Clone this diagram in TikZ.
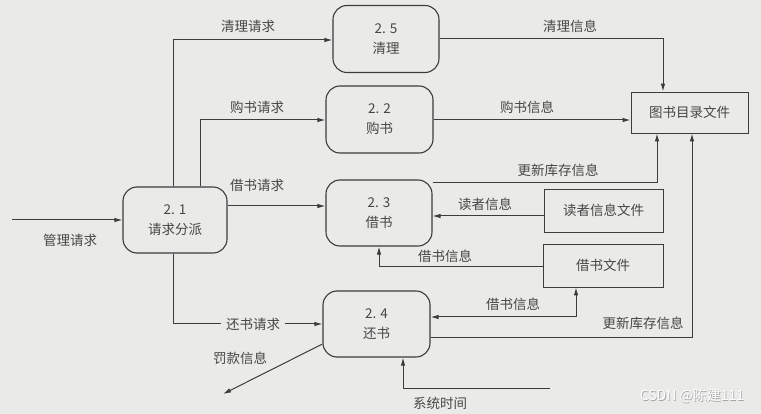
\documentclass[tikz,border=0pt]{standalone}
\usepackage{fontspec}
\setmainfont{Noto Sans CJK SC}
\usetikzlibrary{arrows.meta}
\definecolor{bgc}{RGB}{234,234,232}
\definecolor{linec}{RGB}{60,60,60}
\definecolor{textc}{RGB}{70,70,70}
\begin{document}
\begin{tikzpicture}[x=1pt,y=-1pt,
  proc/.style={draw=linec, line width=1.1pt, rounded corners=14pt, align=center, inner sep=0pt, text=textc, font=\fontsize{13.5}{20}\selectfont},
  store/.style={draw=linec, line width=0.9pt, inner sep=0pt, text=textc, font=\fontsize{13.5}{20}\selectfont},
  flow/.style={draw=linec, line width=1pt, -{Latex[length=8pt,width=4.5pt]}},
  lab/.style={text=textc, inner sep=1pt, font=\fontsize{13.5}{16}\selectfont},
  wmark/.style={inner sep=0pt, font=\fontsize{14}{16}\selectfont}]
\fill[bgc] (0,0) rectangle (761,414);
\useasboundingbox (0,0) rectangle (761,414);

% processes
\node[proc, minimum width=104pt, minimum height=66pt] (p21) at (175,220) {2. 1\\请求分派};
\node[proc, minimum width=106pt, minimum height=67pt] (p25) at (386,39) {2. 5\\清理};
\node[proc, minimum width=107pt, minimum height=67pt] (p22) at (379.5,119.5) {2. 2\\购书};
\node[proc, minimum width=106pt, minimum height=66pt] (p23) at (379,213) {2. 3\\借书};
\node[proc, minimum width=107pt, minimum height=66pt] (p24) at (376.5,324) {2. 4\\还书};

% stores
\node[store, minimum width=117pt, minimum height=41pt] (cat) at (689.5,112.5) {图书目录文件};
\node[store, minimum width=119pt, minimum height=43pt] (rdf) at (603.5,210.5) {读者信息文件};
\node[store, minimum width=120pt, minimum height=43pt] (bf) at (603,265.5) {借书文件};

% coordinates
\coordinate (c0) at (12,220);
\coordinate (c1) at (173,40);
\coordinate (c2) at (200,120);
\coordinate (c3) at (0,206);
\coordinate (c4) at (173,324);
\coordinate (c5) at (223,394);
\coordinate (c6) at (550,388);
\coordinate (c6a) at (403,388);
\coordinate (c7) at (663,39);
\coordinate (c8) at (0,120);
\coordinate (c9) at (657,183);
\coordinate (c10) at (0,216);
\coordinate (c11) at (379,267);
\coordinate (c12) at (576,317);
\coordinate (c13) at (692,338);

% flows
\draw[flow] (c0) -- (p21.west);
\draw[flow] (p21.north -| c1) |- (c1 -| p25.west);
\draw[flow] (p21.north -| c2) |- (c2 -| p22.west);
\draw[flow] (c3 -| p21.east) -- (c3 -| p23.west);
\draw[flow] (p21.south -| c4) |- (c4 -| p24.west);
\draw[flow] ([yshift=-20pt]p24.west) -- (c5);
\draw[flow] (c6) -- (c6a) -- (c6a |- p24.south);
\draw[flow] (c7 -| p25.east) -| (c7 |- cat.north);
\draw[flow] (c8 -| p22.east) -- (c8 -| cat.west);
\draw[flow] (c9 -| p23.east) -| (c9 |- cat.south);
\draw[flow] (c10 -| rdf.west) -- (c10 -| p23.east);
\draw[flow] (c11 -| bf.west) -| (c11 |- p23.south);
\draw[flow, {Latex[length=8pt,width=4.5pt]}-{Latex[length=8pt,width=4.5pt]}] (c12 |- bf.south) |- (c12 -| p24.east);
\draw[flow] (c13 -| p24.east) -| (c13 |- cat.south);

% labels
\node[lab] (l1) at (70,240) {管理请求};
\node[lab] (l2) at (248,26) {清理请求};
\node[lab] (l3) at (257,107) {购书请求};
\node[lab] (l4) at (257,185) {借书请求};
\node[lab, fill=bgc, inner xsep=5pt] (l5) at (253,324) {还书请求};
\node[lab] (l6) at (240,358) {罚款信息};
\node[lab] (l7) at (440,403) {系统时间};
\node[lab] (l8) at (570,26) {清理信息};
\node[lab] (l9) at (527,107) {购书信息};
\node[lab] (l10) at (558,170) {更新库存信息};
\node[lab] (l11) at (485,204) {读者信息};
\node[lab] (l12) at (445,256) {借书信息};
\node[lab] (l13) at (513,304) {借书信息};
\node[lab] (l14) at (643,323) {更新库存信息};

% watermark
\node[wmark, text=gray!70] (wms) at (692.8,396.8) {CSDN @陈建111};
\node[wmark, text=white] (wm) at (692,396) {CSDN @陈建111};
\end{tikzpicture}
\end{document}
